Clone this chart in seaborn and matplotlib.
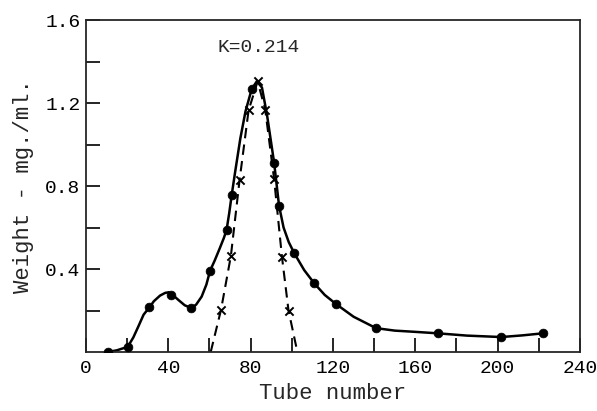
import pandas as pd
import matplotlib.pyplot as plt
import seaborn as sns

# measured points (dots) and the dashed "K=0.214" theoretical curve (crosses)
tube_obs = [10.5, 20.3, 30.8, 41.3, 51.2, 60.3, 68.3, 70.8, 80.5, 91.4, 93.8,
            101.2, 110.9, 121.5, 140.9, 170.9, 201.7, 222.0]
weight_obs = [0.0, 0.025, 0.215, 0.277, 0.212, 0.392, 0.588, 0.757, 1.267, 0.913, 0.705,
              0.476, 0.331, 0.231, 0.115, 0.090, 0.072, 0.090]

tube_calc = [65.6, 70.4, 74.6, 79.0, 83.4, 87.1, 91.4, 95.2, 98.4]
weight_calc = [0.203, 0.463, 0.827, 1.165, 1.305, 1.167, 0.834, 0.460, 0.200]

# hand drawn curves
solid_x = [10.5, 15, 20.3, 23, 25.4, 28, 30.8, 33, 36, 38.5, 40.3, 42.5, 45, 48,
           51.2, 53.5, 56.2, 58.5, 60.3, 62.5, 65, 67, 68.3, 69.6, 70.8, 72.5, 75, 77.5,
           80.5, 83, 85.5, 88, 91.4, 93.8, 96, 98.5, 101.2, 106, 110.9, 116, 121.5, 130,
           140.9, 150, 160, 170.9, 185, 201.7, 212, 222]
solid_y = [0.0, 0.008, 0.025, 0.07, 0.122, 0.18, 0.215, 0.245, 0.272, 0.285, 0.288, 0.272, 0.25,
           0.225, 0.212, 0.228, 0.267, 0.325, 0.392, 0.44, 0.50, 0.55, 0.588, 0.67, 0.757, 0.87,
           1.03, 1.16, 1.267, 1.305, 1.275, 1.14, 0.913, 0.705, 0.6, 0.53, 0.476, 0.395, 0.331,
           0.275, 0.231, 0.17, 0.115, 0.103, 0.097, 0.090, 0.079, 0.072, 0.080, 0.090]

dash_x = [60.6, 65.6, 70.4, 74.6, 79.0, 83.4, 87.1, 91.4, 95.2, 98.4, 102.7]
dash_y = [0.0, 0.203, 0.463, 0.827, 1.165, 1.305, 1.167, 0.834, 0.460, 0.200, 0.0]

obs = pd.DataFrame({'tube': tube_obs, 'weight': weight_obs})
calc = pd.DataFrame({'tube': tube_calc, 'weight': weight_calc})
solid = pd.DataFrame({'tube': solid_x, 'weight': solid_y})
dash = pd.DataFrame({'tube': dash_x, 'weight': dash_y})

sns.set_style('ticks')
plt.rcParams['font.family'] = ['Liberation Mono', 'DejaVu Sans']
plt.rcParams['axes.linewidth'] = 1.3

fig = plt.figure(figsize=(5.97, 4.11), dpi=100)
ax = fig.add_axes([0.144, 0.1436, 0.8275, 0.8074])

sns.lineplot(data=solid, x='tube', y='weight', sort=False, color='black', lw=1.8, ax=ax)
sns.lineplot(data=dash, x='tube', y='weight', sort=False, color='black', lw=1.5,
             linestyle=(0, (5, 3)), ax=ax)
sns.scatterplot(data=obs, x='tube', y='weight', color='black', s=40, edgecolor='black',
                zorder=3, ax=ax)
sns.scatterplot(data=calc, x='tube', y='weight', color='black', marker='x', s=35,
                linewidth=1.4, zorder=3, ax=ax)

ax.text(84, 1.47, 'K=0.214', ha='center', va='center', fontsize=14)

ax.set_xlim(0, 240)
ax.set_ylim(0, 1.6)
ax.set_xticks(range(0, 241, 20))
ax.set_xticklabels([str(v) if v % 40 == 0 else '' for v in range(0, 241, 20)])
ax.set_yticks([0.2, 0.4, 0.6, 0.8, 1.0, 1.2, 1.4, 1.6])
ax.set_yticklabels(['', '0.4', '', '0.8', '', '1.2', '', '1.6'])
ax.tick_params(direction='in', length=10, width=1.2, labelsize=14, colors='black')
ax.tick_params(axis='x', pad=6)
ax.tick_params(axis='y', pad=4)

ax.set_xlabel('Tube number', fontsize=16, labelpad=4)
ax.set_ylabel('Weight - mg./ml.', fontsize=16, labelpad=8)

plt.savefig('out.png', dpi=100)
plt.close()
